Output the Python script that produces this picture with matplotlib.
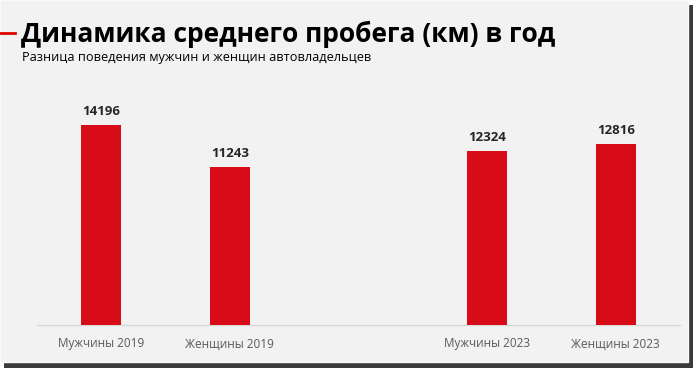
import numpy as np
import matplotlib.pyplot as plt
from matplotlib.patches import Rectangle

# данные
categories = ['Мужчины 2019', 'Женщины 2019', '', 'Мужчины 2023', 'Женщины 2023']
values = [14196, 11243, np.nan, 12324, 12816]
title = 'Динамика среднего пробега (км) в год'
subtitle = 'Разница поведения мужчин и женщин автовладельцев'

plt.rcParams['font.family'] = ['Open Sans', 'DejaVu Sans']

fig = plt.figure(figsize=(7, 3.75), dpi=100)
fig.patch.set_facecolor('white')
W, H = 700, 375

# тень и панель
fig.patches.append(Rectangle((4 / W, 7 / H), 689 / W, 363 / H, transform=fig.transFigure,
                             facecolor='#3a3a3a', edgecolor='none', zorder=-2))
fig.patches.append(Rectangle((0, 13 / H), 688 / W, 362 / H, transform=fig.transFigure,
                             facecolor='#f2f2f2', edgecolor='#fafafa', lw=1, zorder=-1))

ax = fig.add_axes([37 / W, (H - 325) / H, 643 / W, 235 / H])
ax.set_facecolor('none')
x = np.arange(len(categories))
bars = ax.bar(x, values, width=0.31, color='#d80c18', zorder=3)
for xi, v in zip(x, values):
    if not np.isnan(v):
        ax.annotate(str(v), (xi, v), xytext=(0, 5), textcoords='offset points',
                    ha='center', va='bottom', fontsize=9.5, fontweight='bold', color='#262626')

ax.set_xlim(-0.5, len(categories) - 0.5)
ax.set_ylim(0, 16680)
ax.set_xticks(x)
ax.set_xticklabels(categories, fontsize=8.5, color='#595959')
ax.tick_params(axis='x', length=0, pad=9)
ax.set_yticks([])
for s in ['top', 'left', 'right']:
    ax.spines[s].set_visible(False)
ax.spines['bottom'].set_color('#d9d9d9')
ax.spines['bottom'].set_linewidth(1)

# заголовок
fig.add_artist(plt.Line2D([0, 15 / W], [1 - 33 / H, 1 - 33 / H], color='#e00000', lw=2))
fig.text(21 / W, 1 - 34 / H, title, fontsize=19, fontweight='bold', color='black',
         ha='left', va='center')
fig.text(22 / W, 1 - 58 / H, subtitle, fontsize=9.2, color='black', ha='left', va='center')

fig.savefig('out.png', dpi=100, facecolor=fig.get_facecolor())
